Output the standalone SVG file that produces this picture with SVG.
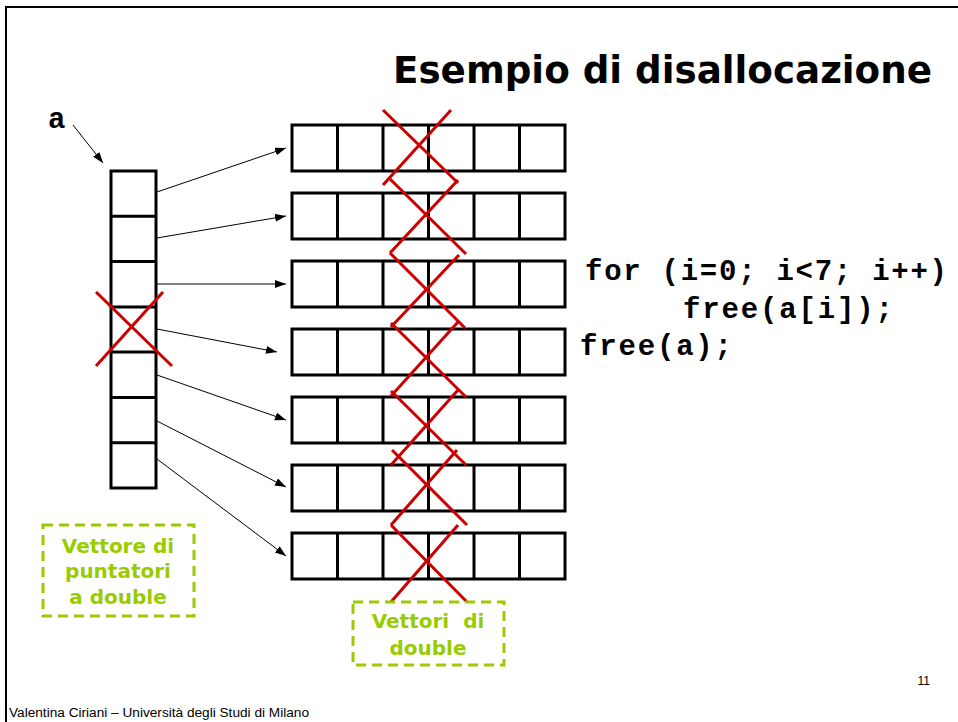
<svg xmlns="http://www.w3.org/2000/svg" width="958" height="722" viewBox="0 0 958 722">
<style>
.cell{fill:#fff;stroke:#000;stroke-width:3}
.div{stroke:#000;stroke-width:3}
.cross{stroke:#cc0000;stroke-width:3;fill:none}
.conn{stroke:#000;stroke-width:1;fill:none;marker-end:url(#ah)}
.code{font-family:"Liberation Mono",monospace;font-weight:bold;font-size:29px;fill:#000}
.green{font-family:"DejaVu Sans",Verdana,sans-serif;font-weight:bold;font-size:20px;fill:#99cc00;text-anchor:middle}
.gbox{fill:none;stroke:#99cc00;stroke-width:3;stroke-dasharray:10 6}
</style>
<defs>
<marker id="ah" markerUnits="userSpaceOnUse" markerWidth="11" markerHeight="9" refX="11" refY="4" orient="auto">
<path d="M0,0 L11,4 L0,8 z" fill="#000"/>
</marker>
<g id="row">
<rect class="cell" x="292" y="0" width="273" height="46"/>
<path class="div" d="M337.5,0V46M383,0V46M428.5,0V46M474,0V46M519.5,0V46"/>
</g>
</defs>
<rect width="958" height="722" fill="#fff"/>
<path d="M6,722V7H958" stroke="#000" stroke-width="2" fill="none"/>
<g id="title">
<text x="393" y="83" font-family="DejaVu Sans,Verdana,sans-serif" font-weight="bold" font-size="37" textLength="539" lengthAdjust="spacingAndGlyphs">Esempio di disallocazione</text>
</g>
<g id="label-a"><text class="code" x="48" y="128">a</text></g>
<g id="pointer-array">
<rect class="cell" x="111" y="171" width="45" height="317"/>
<path class="div" d="M111,216.3H156M111,261.6H156M111,306.9H156M111,352.1H156M111,397.4H156M111,442.7H156"/>
<path class="cross" d="M96,292L172,366M163,292L96,366"/>
</g>
<g id="rows">
<use href="#row" y="125"/>
<use href="#row" y="193"/>
<use href="#row" y="261"/>
<use href="#row" y="329"/>
<use href="#row" y="397"/>
<use href="#row" y="465"/>
<use href="#row" y="533"/>
</g>
<g id="connectors">
<line class="conn" x1="73" y1="125" x2="103" y2="163"/>
<line class="conn" x1="157" y1="192" x2="286" y2="148"/>
<line class="conn" x1="157" y1="238" x2="286" y2="216"/>
<line class="conn" x1="157" y1="284" x2="286" y2="284"/>
<line class="conn" x1="157" y1="329" x2="277" y2="352"/>
<line class="conn" x1="157" y1="375" x2="286" y2="420"/>
<line class="conn" x1="157" y1="421" x2="286" y2="487"/>
<line class="conn" x1="157" y1="459" x2="286" y2="556"/>
</g>
<g id="crosses">
<path class="cross" d="M383,110L458,183M451,110L383,185"/>
<path class="cross" d="M390,179L466,254M458,180L390,253"/>
<path class="cross" d="M390,253L465,328M459,255L391,327"/>
<path class="cross" d="M391,323L466,397M458,322L391,396"/>
<path class="cross" d="M391,391L466,465M458,390L391,465"/>
<path class="cross" d="M392,450L467,525M457,450L391,525"/>
<path class="cross" d="M391,525L467,602M458,525L391,602"/>
</g>
<g id="code">
<text class="code" x="585" y="280" textLength="362" lengthAdjust="spacing">for (i=0; i&lt;7; i++)</text>
<text class="code" x="683" y="318" textLength="210" lengthAdjust="spacing">free(a[i]);</text>
<text class="code" x="580" y="355" textLength="152" lengthAdjust="spacing">free(a);</text>
</g>
<g id="note-pointers">
<rect class="gbox" x="43" y="525" width="151" height="91"/>
<text class="green" x="118" y="553">Vettore di</text>
<text class="green" x="118" y="578">puntatori</text>
<text class="green" x="118" y="604">a double</text>
</g>
<g id="note-doubles">
<rect class="gbox" x="353" y="602" width="151" height="63"/>
<text class="green" x="428" y="628">Vettori&#160; di</text>
<text class="green" x="428" y="655">double</text>
</g>
<text x="930" y="685" font-family="Liberation Sans,Arial,sans-serif" font-size="12" text-anchor="end">11</text>
<text x="9" y="717" font-family="Liberation Sans,Arial,sans-serif" font-size="12" textLength="300" lengthAdjust="spacingAndGlyphs">Valentina Ciriani – Università degli Studi di Milano</text>
</svg>
